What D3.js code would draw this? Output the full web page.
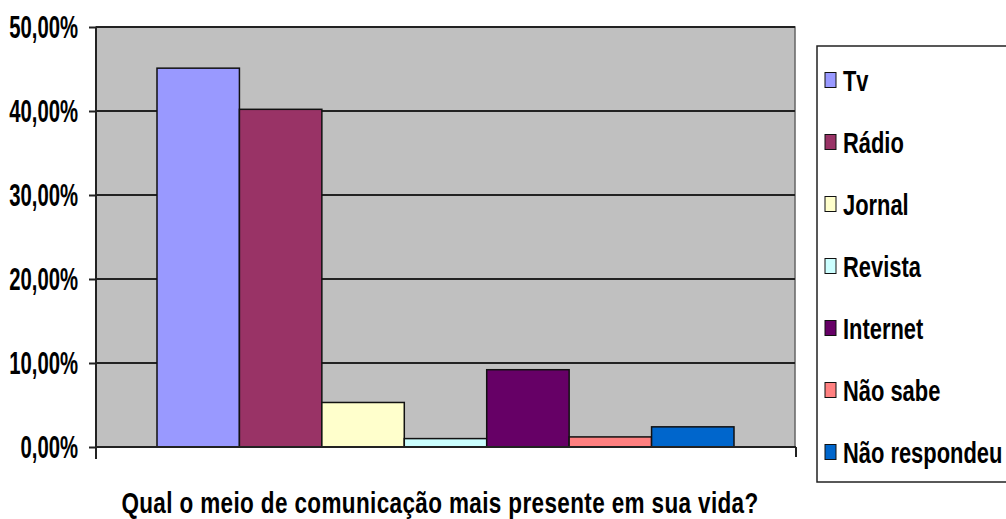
<!DOCTYPE html>
<html>
<head>
<meta charset="utf-8">
<script src="https://cdn.jsdelivr.net/npm/d3@7"></script>
<style>
  body { margin: 0; background: #fff; overflow: hidden; }
  text { font-family: "Liberation Sans", Arial, sans-serif; font-weight: bold; fill: #000; }
</style>
</head>
<body>
<svg width="1006" height="519"></svg>
<script>
// data
const categories = ["Tv", "Rádio", "Jornal", "Revista", "Internet", "Não sabe", "Não respondeu"];
const values = [0.451, 0.402, 0.053, 0.010, 0.092, 0.012, 0.024];
const colors = ["#9999ff", "#993366", "#ffffcc", "#ccffff", "#660066", "#ff8080", "#0066cc"];
const yTicks = [0, 0.1, 0.2, 0.3, 0.4, 0.5];
const xTitle = "Qual o meio de comunicação mais presente em sua vida?";

const svg = d3.select("svg");
const plot = { left: 96, right: 795, top: 27, bottom: 447 };

const y = d3.scaleLinear().domain([0, 0.5]).range([plot.bottom, plot.top]);
const x = d3.scaleBand().domain(categories).range([plot.left, plot.right])
  .paddingInner(0).paddingOuter(0.74);

const fmt = v => d3.format(".2f")(v * 100).replace(".", ",") + "%";

// plot area
svg.append("rect")
  .attr("x", plot.left).attr("y", plot.top)
  .attr("width", plot.right - plot.left).attr("height", plot.bottom - plot.top)
  .attr("fill", "#c0c0c0").attr("stroke", "#666").attr("stroke-width", 1.5);

// gridlines
svg.append("g").selectAll("line")
  .data(yTicks.slice(1))
  .join("line")
  .attr("x1", plot.left).attr("x2", plot.right)
  .attr("y1", d => y(d)).attr("y2", d => y(d))
  .attr("stroke", "#222").attr("stroke-width", 2);

// bars
svg.append("g").selectAll("rect")
  .data(values)
  .join("rect")
  .attr("x", (d, i) => x(categories[i]))
  .attr("y", d => y(d))
  .attr("width", x.bandwidth())
  .attr("height", d => y(0) - y(d))
  .attr("fill", (d, i) => colors[i])
  .attr("stroke", "#111")
  .attr("stroke-width", 1.5);

// y axis
const yAxis = svg.append("g")
  .attr("transform", `translate(${plot.left},0)`)
  .call(d3.axisLeft(y).tickValues(yTicks).tickSize(7).tickFormat(""));
yAxis.select(".domain").attr("d", `M0,${plot.top}V${plot.bottom + 12}`);
yAxis.selectAll("line, path").attr("stroke", "#222").attr("stroke-width", 2);

svg.append("g").selectAll("g")
  .data(yTicks)
  .join("g")
  .attr("transform", d => `translate(78,${y(d)}) scale(0.655,1)`)
  .append("text")
  .attr("text-anchor", "end")
  .attr("dy", "0.36em")
  .style("font-size", "31px")
  .text(fmt);

// x axis
svg.append("line")
  .attr("x1", plot.left).attr("x2", plot.right + 1)
  .attr("y1", y(0)).attr("y2", y(0))
  .attr("stroke", "#222").attr("stroke-width", 2);
svg.append("line")
  .attr("x1", plot.right + 1).attr("x2", plot.right + 1)
  .attr("y1", y(0)).attr("y2", y(0) + 10)
  .attr("stroke", "#222").attr("stroke-width", 2);

svg.append("g")
  .attr("transform", "translate(440,513) scale(0.75,1)")
  .append("text")
  .attr("text-anchor", "middle")
  .style("font-size", "30px")
  .style("letter-spacing", "0.5px")
  .text(xTitle);

// legend
const legend = svg.append("g");
legend.append("rect")
  .attr("x", 817).attr("y", 46).attr("width", 220).attr("height", 436)
  .attr("fill", "#fff").attr("stroke", "#222").attr("stroke-width", 1.5);

const item = legend.selectAll("g.item")
  .data(categories)
  .join("g")
  .attr("class", "item")
  .attr("transform", (d, i) => `translate(825,${80 + i * 62})`);

item.append("rect")
  .attr("x", 0).attr("y", -7.5).attr("width", 11).attr("height", 15)
  .attr("fill", (d, i) => colors[i])
  .attr("stroke", "#111").attr("stroke-width", 1);

item.append("g")
  .attr("transform", "translate(18,0) scale(0.73,1)")
  .append("text")
  .attr("dy", "0.36em")
  .style("font-size", "30px")
  .text(d => d);
</script>
</body>
</html>
